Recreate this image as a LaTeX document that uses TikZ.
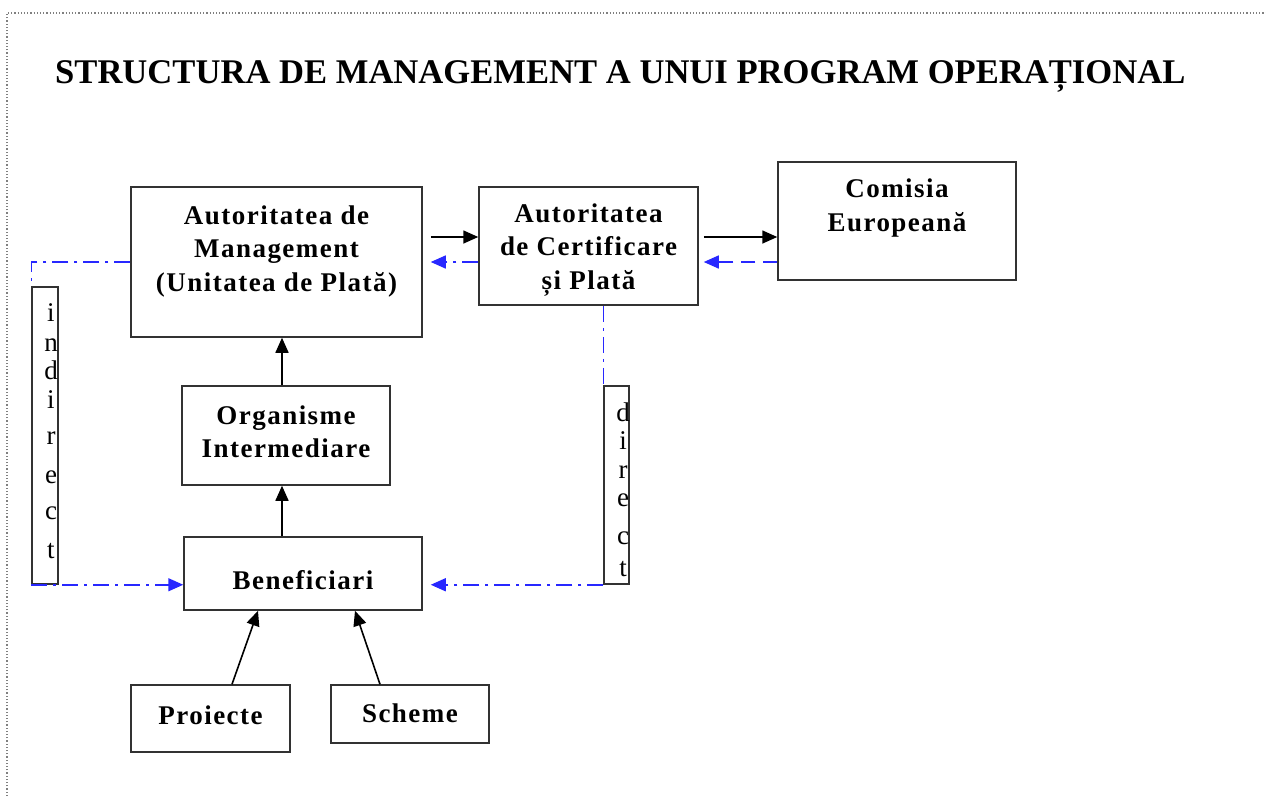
\documentclass[tikz,border=0pt]{standalone}
\usepackage{fontspec}
\setmainfont{Liberation Serif}
\newfontfamily\bxfont{Liberation Serif}[LetterSpace=5.5]
\usetikzlibrary{arrows.meta}
\definecolor{lnblue}{RGB}{40,40,255}
\definecolor{bordergray}{RGB}{50,50,50}
\tikzset{
  box/.style={draw=bordergray, line width=1.5pt, inner sep=0pt, anchor=center},
  txt/.style={align=center, inner sep=0pt, font=\bxfont\bfseries\fontsize{27}{33.5}\selectfont},
  ltr/.style={anchor=base, inner sep=0pt, font=\fontsize{27}{27}\selectfont},
  blk/.style={line width=1.6pt, black, -{Triangle[length=15pt,width=13pt]}},
  bdd/.style={line width=1.5pt, lnblue, dash pattern=on 16pt off 6pt on 3pt off 6pt},
  bdash/.style={line width=1.5pt, lnblue, dash pattern=on 14pt off 8pt},
  btip/.style={-{Triangle[length=15pt,width=13pt]}},
}
\begin{document}
\begin{tikzpicture}[x=1pt,y=-1pt]
\useasboundingbox (0,0) rectangle (1266,796);
\draw[gray, line width=1.2pt, dotted] (7,796) -- (7,13) -- (1266,13);
\node[anchor=base west, inner sep=0pt, font=\bfseries\fontsize{34.6}{34.6}\selectfont] (title) at (55,83) {STRUCTURA DE MANAGEMENT A UNUI PROGRAM OPERAȚIONAL};

% boxes
\node[box, minimum width=291pt, minimum height=150pt] (am) at (276.5,262) {};
\node[txt] (amt) at (276.5,251) {Autoritatea de\\Management\\(Unitatea de Plată)};
\node[box, minimum width=219pt, minimum height=118pt] (acp) at (588.5,246) {};
\node[txt] (acpt) at (588.5,250) {Autoritatea\\de Certificare\\și Plată};
\node[box, minimum width=238pt, minimum height=118pt] (ce) at (897,221) {};
\node[txt] (cet) at (897,208) {Comisia\\Europeană};
\node[box, minimum width=208pt, minimum height=99pt] (oi) at (286,435.5) {};
\node[txt] (oit) at (286,432) {Organisme\\Intermediare};
\node[box, minimum width=238pt, minimum height=73pt] (ben) at (303,573.5) {};
\node[txt] (bent) at (303,580) {Beneficiari};
\node[box, minimum width=159pt, minimum height=67pt] (pro) at (210.5,718.5) {};
\node[txt] (prot) at (210.5,715) {Proiecte};
\node[box, minimum width=158pt, minimum height=58pt] (sch) at (410,714) {};
\node[txt] (scht) at (410,713) {Scheme};

% vertical label boxes
\node[box, minimum width=26pt, minimum height=297pt] (ind) at (45,435.5) {};
\node[box, minimum width=25pt, minimum height=198pt] (dir) at (616.5,485) {};
\foreach \l/\y [count=\k] in {i/321,n/351,d/379,i/408,r/444,e/483,c/519,t/558}
  \node[ltr] (ind\k) at (51,\y) {\l};
\foreach \l/\y [count=\k] in {d/421,i/449,r/478,e/506,c/544,t/576}
  \node[ltr] (dir\k) at (623,\y) {\l};

% connectors top row
\draw[blk] ([xshift=8pt,yshift=25pt]am.east) -- ([yshift=9pt]acp.west);
\draw[bdd,btip] ([yshift=-16pt]acp.west) -- ([xshift=8pt]am.east);
\draw[blk] ([xshift=5pt,yshift=9pt]acp.east) -- ([yshift=-16pt]ce.west);
\draw[bdash,btip] ([yshift=-41pt]ce.west) -- ([xshift=5pt,yshift=-16pt]acp.east);

% indirect
\draw[bdd] (am.west) -- (ind.north west |- am.west) -- (ind.north west);
\draw[bdd,btip] (ind.south west) -- (ind.south west -| ben.west);
% direct
\draw[bdd] (dir.north west |- acp.south) -- (dir.north west);
\draw[bdd,btip] (dir.south west) -- ([xshift=8pt]dir.south west -| ben.east);

% vertical chain
\draw[blk] ([xshift=-4pt]oi.north) -- ([xshift=-4pt]oi.north |- am.south);
\draw[blk] ([xshift=-4pt]oi.south |- ben.north) -- ([xshift=-4pt]oi.south);
\draw[blk] ([xshift=21.5pt]pro.north) -- ([xshift=-45pt]ben.south);
\draw[blk] ([xshift=-30pt]sch.north) -- ([xshift=52pt]ben.south);
\end{tikzpicture}
\end{document}
